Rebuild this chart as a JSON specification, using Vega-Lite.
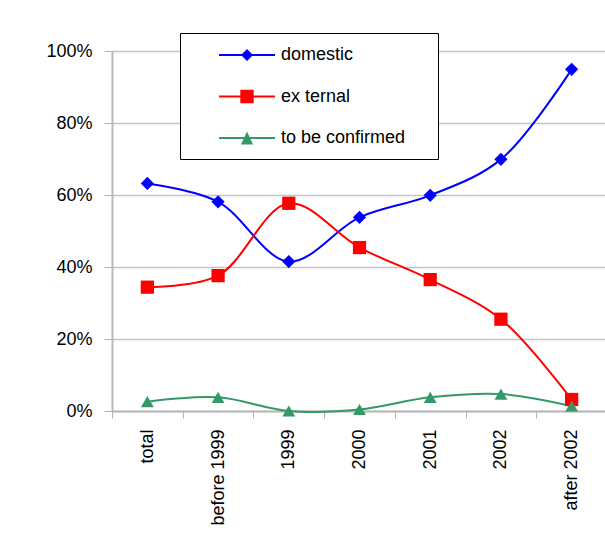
{
  "$schema": "https://vega.github.io/schema/vega-lite/v6.json",
  "autosize": {"type": "none"},
  "padding": {"left": 112, "top": 51, "right": 0, "bottom": 122},
  "width": 495,
  "height": 360,
  "background": "white",
  "data": {
    "values": [
      {"cat": "total", "series": "domestic", "value": 63.2},
      {"cat": "before 1999", "series": "domestic", "value": 58.1},
      {"cat": "1999", "series": "domestic", "value": 41.5},
      {"cat": "2000", "series": "domestic", "value": 53.8},
      {"cat": "2001", "series": "domestic", "value": 59.9},
      {"cat": "2002", "series": "domestic", "value": 69.9},
      {"cat": "after 2002", "series": "domestic", "value": 94.9},
      {"cat": "total", "series": "ex ternal", "value": 34.4},
      {"cat": "before 1999", "series": "ex ternal", "value": 37.6},
      {"cat": "1999", "series": "ex ternal", "value": 57.7},
      {"cat": "2000", "series": "ex ternal", "value": 45.4},
      {"cat": "2001", "series": "ex ternal", "value": 36.5},
      {"cat": "2002", "series": "ex ternal", "value": 25.5},
      {"cat": "after 2002", "series": "ex ternal", "value": 3.2},
      {"cat": "total", "series": "to be confirmed", "value": 2.6},
      {"cat": "before 1999", "series": "to be confirmed", "value": 3.8},
      {"cat": "1999", "series": "to be confirmed", "value": 0.0},
      {"cat": "2000", "series": "to be confirmed", "value": 0.4},
      {"cat": "2001", "series": "to be confirmed", "value": 3.8},
      {"cat": "2002", "series": "to be confirmed", "value": 4.7},
      {"cat": "after 2002", "series": "to be confirmed", "value": 1.4}
    ]
  },
  "encoding": {
    "x": {
      "field": "cat",
      "type": "nominal",
      "sort": ["total", "before 1999", "1999", "2000", "2001", "2002", "after 2002"],
      "scale": {"paddingInner": 0, "paddingOuter": 0},
      "axis": {
        "title": null,
        "labelAngle": -90,
        "labelAlign": "right",
        "labelBaseline": "middle",
        "labelFont": "Liberation Sans",
        "labelFontSize": 18,
        "labelColor": "black",
        "labelPadding": 11,
        "tickBand": "extent",
        "tickSize": 7,
        "tickColor": "#b0b0b0",
        "domainColor": "#b8b8b8",
        "domainWidth": 2,
        "grid": false,
        "labelLimit": 0
      }
    },
    "y": {
      "field": "value",
      "type": "quantitative",
      "scale": {"domain": [0, 100], "nice": false},
      "axis": {
        "title": null,
        "values": [0, 20, 40, 60, 80, 100],
        "labelExpr": "datum.value + '%'",
        "labelFont": "Liberation Sans",
        "labelFontSize": 18,
        "labelColor": "black",
        "labelPadding": 12,
        "tickSize": 8,
        "tickColor": "#b0b0b0",
        "domainColor": "#b8b8b8",
        "domainWidth": 2,
        "grid": true,
        "gridColor": "#c4c4c4",
        "gridWidth": 1.5
      }
    }
  },
  "layer": [
    {
      "transform": [{"filter": "datum.series === 'domestic'"}],
      "mark": {"type": "line", "interpolate": "catmull-rom", "strokeWidth": 2, "color": "#0000ff"}
    },
    {
      "transform": [{"filter": "datum.series === 'ex ternal'"}],
      "mark": {"type": "line", "interpolate": "catmull-rom", "strokeWidth": 2, "color": "#ff0000"}
    },
    {
      "transform": [{"filter": "datum.series === 'to be confirmed'"}],
      "mark": {"type": "line", "interpolate": "catmull-rom", "strokeWidth": 2, "color": "#339966"}
    },
    {
      "transform": [{"filter": "datum.series === 'domestic'"}],
      "mark": {"type": "point", "shape": "diamond", "filled": true, "opacity": 1, "size": 175, "color": "#0000ff"}
    },
    {
      "transform": [{"filter": "datum.series === 'ex ternal'"}],
      "mark": {"type": "point", "shape": "square", "filled": true, "opacity": 1, "size": 175, "color": "#ff0000"}
    },
    {
      "transform": [{"filter": "datum.series === 'to be confirmed'"}],
      "mark": {"type": "point", "shape": "triangle-up", "filled": true, "opacity": 1, "size": 165, "color": "#339966"}
    },
    {
      "transform": [{"filter": "false"}],
      "mark": {"type": "point", "filled": true, "opacity": 1},
      "encoding": {
        "color": {
          "field": "series",
          "type": "nominal",
          "scale": {"domain": ["domestic", "ex ternal", "to be confirmed"], "range": ["#0000ff", "#ff0000", "#339966"]},
          "legend": {
            "title": null,
            "orient": "none",
            "legendX": 68,
            "legendY": -18,
            "padding": 12,
            "strokeColor": "black",
            "fillColor": "white",
            "symbolSize": 400,
            "symbolOffset": 45,
            "symbolStrokeWidth": 0,
            "symbolOpacity": 1,
            "labelOffset": 24,
            "labelFont": "Liberation Sans",
            "labelFontSize": 18,
            "labelColor": "black",
            "labelLimit": 0,
            "rowPadding": 22.5
          }
        },
        "shape": {
          "field": "series",
          "type": "nominal",
          "scale": {
            "domain": ["domestic", "ex ternal", "to be confirmed"],
            "range": [
              "M-2.8,-0.1H2.8V0.1H-2.8ZM0,-0.6L0.6,0L0,0.6L-0.6,0ZM17.9,0Z",
              "M-2.8,-0.1H2.8V0.1H-2.8ZM-0.67,-0.67H0.67V0.67H-0.67ZM17.9,0Z",
              "M-2.8,-0.1H2.8V0.1H-2.8ZM0,-0.65L0.6,0.65L-0.6,0.65ZM17.9,0Z"
            ]
          },
          "legend": {
            "title": null,
            "orient": "none",
            "legendX": 68,
            "legendY": -18,
            "padding": 12,
            "strokeColor": "black",
            "fillColor": "white",
            "symbolSize": 400,
            "symbolOffset": 45,
            "symbolStrokeWidth": 0,
            "symbolOpacity": 1,
            "labelOffset": 24,
            "labelFont": "Liberation Sans",
            "labelFontSize": 18,
            "labelColor": "black",
            "labelLimit": 0,
            "rowPadding": 22.5
          }
        }
      }
    }
  ],
  "config": {"view": {"stroke": null}}
}
